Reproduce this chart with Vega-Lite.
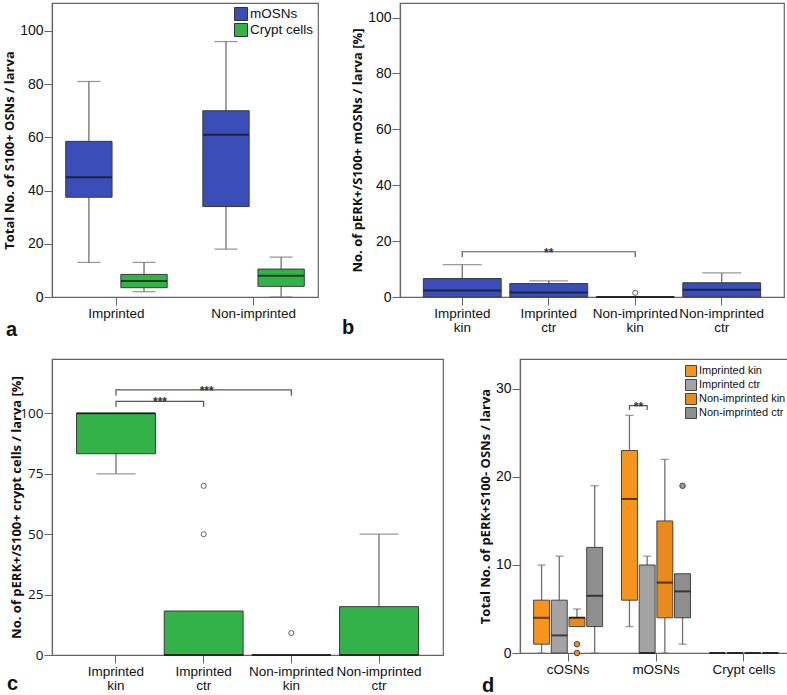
{
  "$schema": "https://vega.github.io/schema/vega-lite/v6.json",
  "padding": {"left": 3, "top": 2, "right": 0, "bottom": 0},
  "background": "white",
  "spacing": 17,
  "resolve": {"scale": {"fill": "independent", "color": "independent", "xOffset": "independent", "x": "independent", "y": "independent"}, "legend": {"fill": "independent", "color": "independent"}},
  "datasets": {
    "boxA": [
      {"group": "Imprinted", "series": "mOSNs", "lower": 13, "q1": 37.5, "median": 45, "q3": 58.5, "upper": 81},
      {"group": "Imprinted", "series": "Crypt cells", "lower": 2, "q1": 3.5, "median": 6, "q3": 8.5, "upper": 13},
      {"group": "Non-imprinted", "series": "mOSNs", "lower": 18, "q1": 34, "median": 61, "q3": 70, "upper": 96},
      {"group": "Non-imprinted", "series": "Crypt cells", "lower": 0, "q1": 4, "median": 8, "q3": 10.5, "upper": 15}
    ],
    "boxB": [
      {"cat": "Imprinted kin", "lower": 0, "q1": 0, "median": 2.3, "q3": 6.6, "upper": 11.6},
      {"cat": "Imprinted ctr", "lower": 0, "q1": 0, "median": 1.6, "q3": 4.8, "upper": 5.8},
      {"cat": "Non-imprinted kin", "lower": 0, "q1": 0, "median": 0, "q3": 0, "upper": 0},
      {"cat": "Non-imprinted ctr", "lower": 0, "q1": 0, "median": 2.6, "q3": 5.1, "upper": 8.6}
    ],
    "outB": [
      {"cat": "Non-imprinted kin", "value": 1.5}
    ],
    "brB": [
      {"br": 1, "cat": "Imprinted kin", "y": 14.3, "o": 1},
      {"br": 1, "cat": "Imprinted kin", "y": 16.2, "o": 2},
      {"br": 1, "cat": "Non-imprinted kin", "y": 16.2, "o": 3},
      {"br": 1, "cat": "Non-imprinted kin", "y": 14.3, "o": 4}
    ],
    "sigB": [
      {"cat": "Imprinted ctr", "y": 16.2, "label": "**"}
    ],
    "boxC": [
      {"cat": "Imprinted kin", "lower": 75, "q1": 83.3, "median": 100, "q3": 100, "upper": 100},
      {"cat": "Imprinted ctr", "lower": 0, "q1": 0, "median": 0, "q3": 18.2, "upper": 18.2},
      {"cat": "Non-imprinted kin", "lower": 0, "q1": 0, "median": 0, "q3": 0, "upper": 0},
      {"cat": "Non-imprinted ctr", "lower": 0, "q1": 0, "median": 0, "q3": 20, "upper": 50}
    ],
    "outC": [
      {"cat": "Imprinted ctr", "value": 70},
      {"cat": "Imprinted ctr", "value": 50},
      {"cat": "Non-imprinted kin", "value": 9.1}
    ],
    "brC": [
      {"br": 1, "cat": "Imprinted kin", "y": 102.6, "o": 1},
      {"br": 1, "cat": "Imprinted kin", "y": 105, "o": 2},
      {"br": 1, "cat": "Imprinted ctr", "y": 105, "o": 3},
      {"br": 1, "cat": "Imprinted ctr", "y": 102.6, "o": 4},
      {"br": 2, "cat": "Imprinted kin", "y": 107.3, "o": 1},
      {"br": 2, "cat": "Imprinted kin", "y": 109.7, "o": 2},
      {"br": 2, "cat": "Non-imprinted kin", "y": 109.7, "o": 3},
      {"br": 2, "cat": "Non-imprinted kin", "y": 107.3, "o": 4}
    ],
    "boxD": [
      {"group": "cOSNs", "series": "Imprinted kin", "lower": 0, "q1": 1, "median": 4, "q3": 6, "upper": 10},
      {"group": "cOSNs", "series": "Imprinted ctr", "lower": 0, "q1": 0, "median": 2, "q3": 6, "upper": 11},
      {"group": "cOSNs", "series": "Non-imprinted kin", "lower": 3, "q1": 3, "median": 4, "q3": 4.05, "upper": 5},
      {"group": "cOSNs", "series": "Non-imprinted ctr", "lower": 0, "q1": 3, "median": 6.5, "q3": 12, "upper": 19},
      {"group": "mOSNs", "series": "Imprinted kin", "lower": 3, "q1": 6, "median": 17.5, "q3": 23, "upper": 27},
      {"group": "mOSNs", "series": "Imprinted ctr", "lower": 0, "q1": 0, "median": 0, "q3": 10, "upper": 11},
      {"group": "mOSNs", "series": "Non-imprinted kin", "lower": 0, "q1": 4, "median": 8, "q3": 15, "upper": 22},
      {"group": "mOSNs", "series": "Non-imprinted ctr", "lower": 1, "q1": 4, "median": 7, "q3": 9, "upper": 9},
      {"group": "Crypt cells", "series": "Imprinted kin", "lower": 0, "q1": 0, "median": 0, "q3": 0, "upper": 0},
      {"group": "Crypt cells", "series": "Imprinted ctr", "lower": 0, "q1": 0, "median": 0, "q3": 0, "upper": 0},
      {"group": "Crypt cells", "series": "Non-imprinted kin", "lower": 0, "q1": 0, "median": 0, "q3": 0, "upper": 0},
      {"group": "Crypt cells", "series": "Non-imprinted ctr", "lower": 0, "q1": 0, "median": 0, "q3": 0, "upper": 0}
    ],
    "outD": [
      {"group": "cOSNs", "series": "Non-imprinted kin", "value": 1},
      {"group": "cOSNs", "series": "Non-imprinted kin", "value": 0},
      {"group": "mOSNs", "series": "Non-imprinted ctr", "value": 19}
    ],
    "brD": [
      {"br": 1, "group": "mOSNs", "series": "Imprinted kin", "y": 27.6, "o": 1},
      {"br": 1, "group": "mOSNs", "series": "Imprinted kin", "y": 28.1, "o": 2},
      {"br": 1, "group": "mOSNs", "series": "Imprinted ctr", "y": 28.1, "o": 3},
      {"br": 1, "group": "mOSNs", "series": "Imprinted ctr", "y": 27.6, "o": 4}
    ],
    "sigD": [
      {"group": "mOSNs", "series": "Imprinted kin", "y": 28.1, "label": "**"}
    ]
  },
  "vconcat": [
    {
      "spacing": 22,
      "resolve": {"scale": {"fill": "independent", "color": "independent", "xOffset": "independent"}, "legend": {"fill": "independent", "color": "independent"}},
      "hconcat": [
        {
          "width": 266,
          "height": 294,
          "title": {"text": "a", "orient": "bottom", "anchor": "start", "frame": "group", "dx": -46, "dy": -4, "fontSize": 20, "fontWeight": "bold", "font": "Liberation Sans", "color": "#111"},
          "data": {"name": "boxA"},
          "encoding": {
            "x": {"field": "group", "type": "nominal", "sort": ["Imprinted", "Non-imprinted"], "scale": {"domain": ["Imprinted", "Non-imprinted"], "paddingInner": 0.26, "paddingOuter": 0.1}, "axis": {"title": null, "labelAngle": 0, "labelFontSize": 13.5}},
            "xOffset": {"field": "series", "type": "nominal", "scale": {"domain": ["mOSNs", "Crypt cells"], "paddingInner": 0.16, "paddingOuter": 0}}
          },
          "layer": [
            {
              "mark": {"type": "rule", "color": "#707070", "strokeWidth": 1.3},
              "encoding": {
                "y": {"field": "lower", "type": "quantitative", "scale": {"domain": [0, 110.5], "nice": false, "zero": true}, "axis": {"title": "Total No. of S100+ OSNs / larva", "values": [0, 20, 40, 60, 80, 100]}},
                "y2": {"field": "upper"}
              }
            },
            {
              "transform": [{"filter": "datum.lower < datum.q1"}],
              "mark": {"type": "tick", "color": "#707070", "size": 23, "thickness": 1.3},
              "encoding": {"y": {"field": "lower", "type": "quantitative"}}
            },
            {
              "transform": [{"filter": "datum.upper > datum.q3"}],
              "mark": {"type": "tick", "color": "#707070", "size": 23, "thickness": 1.3},
              "encoding": {"y": {"field": "upper", "type": "quantitative"}}
            },
            {
              "mark": {"type": "bar", "stroke": "#3a3a3a", "strokeWidth": 1},
              "encoding": {
                "y": {"field": "q1", "type": "quantitative"},
                "y2": {"field": "q3"},
                "fill": {"field": "series", "type": "nominal", "scale": {"domain": ["mOSNs", "Crypt cells"], "range": ["#3a4db8", "#34b24a"]},
                  "legend": {"title": null, "orient": "top-right", "offset": 2, "symbolType": "square", "symbolSize": 169, "symbolStrokeColor": "#333", "symbolStrokeWidth": 1, "labelFontSize": 13.5, "labelFont": "Liberation Sans", "labelColor": "#111", "labelOffset": 2, "rowPadding": -2, "padding": 2}}
              }
            },
            {
              "mark": {"type": "tick", "color": "#111", "size": 46, "thickness": 2},
              "encoding": {"y": {"field": "median", "type": "quantitative"}}
            }
          ]
        },
        {
          "width": 384,
          "height": 294,
          "title": {"text": "b", "orient": "bottom", "anchor": "start", "frame": "group", "dx": -58, "dy": -20, "fontSize": 20, "fontWeight": "bold", "font": "Liberation Sans", "color": "#111"},
          "encoding": {
            "x": {"field": "cat", "type": "nominal", "sort": ["Imprinted kin", "Imprinted ctr", "Non-imprinted kin", "Non-imprinted ctr"], "scale": {"domain": ["Imprinted kin", "Imprinted ctr", "Non-imprinted kin", "Non-imprinted ctr"], "paddingInner": 0.1, "paddingOuter": 0.27}, "axis": {"title": null, "labelAngle": 0, "labelExpr": "split(datum.label, ' ')", "labelLineHeight": 14, "labelFontSize": 13.5}}
          },
          "layer": [
            {
              "data": {"name": "boxB"},
              "mark": {"type": "rule", "color": "#707070", "strokeWidth": 1.3},
              "encoding": {
                "y": {"field": "lower", "type": "quantitative", "scale": {"domain": [0, 105.2], "nice": false}, "axis": {"title": "No. of pERK+/S100+ mOSNs / larva [%]", "values": [0, 20, 40, 60, 80, 100]}},
                "y2": {"field": "upper"}
              }
            },
            {
              "data": {"name": "boxB"},
              "transform": [{"filter": "datum.upper > datum.q3"}],
              "mark": {"type": "tick", "color": "#707070", "size": 39, "thickness": 1.3},
              "encoding": {"y": {"field": "upper", "type": "quantitative"}}
            },
            {
              "data": {"name": "boxB"},
              "mark": {"type": "bar", "stroke": "#3a3a3a", "strokeWidth": 1, "fill": "#3a4db8"},
              "encoding": {
                "y": {"field": "q1", "type": "quantitative"},
                "y2": {"field": "q3"}
              }
            },
            {
              "data": {"name": "boxB"},
              "mark": {"type": "tick", "color": "#111", "size": 78, "thickness": 2},
              "encoding": {"y": {"field": "median", "type": "quantitative"}}
            },
            {
              "data": {"name": "outB"},
              "mark": {"type": "point", "shape": "circle", "filled": false, "stroke": "#222", "strokeWidth": 1, "size": 26},
              "encoding": {"y": {"field": "value", "type": "quantitative"}}
            },
            {
              "data": {"name": "brB"},
              "mark": {"type": "line", "color": "#555", "strokeWidth": 1.2},
              "encoding": {"y": {"field": "y", "type": "quantitative"}, "detail": {"field": "br"}, "order": {"field": "o"}}
            },
            {
              "data": {"name": "sigB"},
              "mark": {"type": "text", "fontSize": 12, "font": "Liberation Sans", "fontWeight": "bold", "color": "#333", "baseline": "alphabetic", "dy": 5},
              "encoding": {"y": {"field": "y", "type": "quantitative"}, "text": {"field": "label"}}
            }
          ]
        }
      ]
    },
    {
      "spacing": 34,
      "resolve": {"scale": {"fill": "independent", "color": "independent", "xOffset": "independent"}, "legend": {"fill": "independent", "color": "independent"}},
      "hconcat": [
        {
          "width": 391,
          "height": 296,
          "title": {"text": "c", "orient": "bottom", "anchor": "start", "frame": "group", "dx": -45, "dy": -22, "fontSize": 20, "fontWeight": "bold", "font": "Liberation Sans", "color": "#111"},
          "encoding": {
            "x": {"field": "cat", "type": "nominal", "sort": ["Imprinted kin", "Imprinted ctr", "Non-imprinted kin", "Non-imprinted ctr"], "scale": {"domain": ["Imprinted kin", "Imprinted ctr", "Non-imprinted kin", "Non-imprinted ctr"], "paddingInner": 0.1, "paddingOuter": 0.28}, "axis": {"title": null, "labelAngle": 0, "labelExpr": "split(datum.label, ' ')", "labelLineHeight": 14, "labelFontSize": 13.5}}
          },
          "layer": [
            {
              "data": {"name": "boxC"},
              "mark": {"type": "rule", "color": "#707070", "strokeWidth": 1.3},
              "encoding": {
                "y": {"field": "lower", "type": "quantitative", "scale": {"domain": [0, 122.5], "nice": false}, "axis": {"title": "No. of pERK+/S100+ crypt cells / larva [%]", "values": [0, 25, 50, 75, 100], "labelFont": "Open Sans", "labelFontSize": 13.5, "titlePadding": -4, "tickSize": 8}},
                "y2": {"field": "upper"}
              }
            },
            {
              "data": {"name": "boxC"},
              "transform": [{"filter": "datum.lower < datum.q1"}],
              "mark": {"type": "tick", "color": "#707070", "size": 39, "thickness": 1.3},
              "encoding": {"y": {"field": "lower", "type": "quantitative"}}
            },
            {
              "data": {"name": "boxC"},
              "transform": [{"filter": "datum.upper > datum.q3"}],
              "mark": {"type": "tick", "color": "#707070", "size": 39, "thickness": 1.3},
              "encoding": {"y": {"field": "upper", "type": "quantitative"}}
            },
            {
              "data": {"name": "boxC"},
              "mark": {"type": "bar", "stroke": "#3a3a3a", "strokeWidth": 1, "fill": "#34b24a"},
              "encoding": {
                "y": {"field": "q1", "type": "quantitative"},
                "y2": {"field": "q3"}
              }
            },
            {
              "data": {"name": "boxC"},
              "mark": {"type": "tick", "color": "#111", "size": 79, "thickness": 2},
              "encoding": {"y": {"field": "median", "type": "quantitative"}}
            },
            {
              "data": {"name": "outC"},
              "mark": {"type": "point", "shape": "circle", "filled": false, "stroke": "#222", "strokeWidth": 1, "size": 26},
              "encoding": {"y": {"field": "value", "type": "quantitative"}}
            },
            {
              "data": {"name": "brC"},
              "mark": {"type": "line", "color": "#555", "strokeWidth": 1.2},
              "encoding": {"y": {"field": "y", "type": "quantitative"}, "detail": {"field": "br"}, "order": {"field": "o"}}
            },
            {
              "data": {"values": [{"cat": "Imprinted kin", "y": 105, "label": "***"}]},
              "mark": {"type": "text", "fontSize": 12, "font": "Liberation Sans", "fontWeight": "bold", "color": "#333", "baseline": "alphabetic", "dy": 5, "dx": 44},
              "encoding": {"y": {"field": "y", "type": "quantitative"}, "text": {"field": "label"}}
            },
            {
              "data": {"values": [{"cat": "Imprinted ctr", "y": 109.7, "label": "***"}]},
              "mark": {"type": "text", "fontSize": 12, "font": "Liberation Sans", "fontWeight": "bold", "color": "#333", "baseline": "alphabetic", "dy": 5, "dx": 3},
              "encoding": {"y": {"field": "y", "type": "quantitative"}, "text": {"field": "label"}}
            }
          ]
        },
        {
          "width": 272,
          "height": 294,
          "title": {"text": "d", "orient": "bottom", "anchor": "start", "frame": "group", "dx": -38, "dy": -4, "fontSize": 20, "fontWeight": "bold", "font": "Liberation Sans", "color": "#111"},
          "encoding": {
            "x": {"field": "group", "type": "nominal", "sort": ["cOSNs", "mOSNs", "Crypt cells"], "scale": {"domain": ["cOSNs", "mOSNs", "Crypt cells"], "paddingInner": 0.215, "paddingOuter": 0.155}, "axis": {"title": null, "labelAngle": 0, "labelFontSize": 13.5}},
            "xOffset": {"field": "series", "type": "nominal", "scale": {"domain": ["Imprinted kin", "Imprinted ctr", "Non-imprinted kin", "Non-imprinted ctr"], "paddingInner": 0.1, "paddingOuter": 0}}
          },
          "layer": [
            {
              "data": {"name": "boxD"},
              "mark": {"type": "rule", "color": "#707070", "strokeWidth": 1.3},
              "encoding": {
                "y": {"field": "lower", "type": "quantitative", "scale": {"domain": [0, 33.4], "nice": false}, "axis": {"title": "Total No. of pERK+S100- OSNs / larva", "values": [0, 10, 20, 30]}},
                "y2": {"field": "upper"}
              }
            },
            {
              "data": {"name": "boxD"},
              "transform": [{"filter": "datum.lower < datum.q1"}],
              "mark": {"type": "tick", "color": "#707070", "size": 8, "thickness": 1.3},
              "encoding": {"y": {"field": "lower", "type": "quantitative"}}
            },
            {
              "data": {"name": "boxD"},
              "transform": [{"filter": "datum.upper > datum.q3"}],
              "mark": {"type": "tick", "color": "#707070", "size": 8, "thickness": 1.3},
              "encoding": {"y": {"field": "upper", "type": "quantitative"}}
            },
            {
              "data": {"name": "boxD"},
              "mark": {"type": "bar", "stroke": "#444", "strokeWidth": 1},
              "encoding": {
                "y": {"field": "q1", "type": "quantitative"},
                "y2": {"field": "q3"},
                "fill": {"field": "series", "type": "nominal", "scale": {"domain": ["Imprinted kin", "Imprinted ctr", "Non-imprinted kin", "Non-imprinted ctr"], "range": ["#f7941d", "#a3a3a3", "#e88a1c", "#8f8f8f"]},
                  "legend": {"title": null, "orient": "top-right", "offset": 4, "symbolType": "square", "symbolSize": 121, "symbolStrokeColor": "#444", "symbolStrokeWidth": 1, "labelFontSize": 11, "labelFont": "Liberation Sans", "labelColor": "#111", "labelOffset": 2, "rowPadding": -3, "padding": 2}}
              }
            },
            {
              "data": {"name": "boxD"},
              "mark": {"type": "tick", "color": "#111", "size": 16, "thickness": 2},
              "encoding": {"y": {"field": "median", "type": "quantitative"}}
            },
            {
              "data": {"name": "outD"},
              "mark": {"type": "point", "shape": "circle", "filled": true, "stroke": "#444", "strokeWidth": 1, "size": 30, "opacity": 1},
              "encoding": {
                "y": {"field": "value", "type": "quantitative"},
                "color": {"field": "series", "type": "nominal", "scale": {"domain": ["Imprinted kin", "Imprinted ctr", "Non-imprinted kin", "Non-imprinted ctr"], "range": ["#f7941d", "#a3a3a3", "#f0901d", "#9a9a9a"]}, "legend": null}
              }
            },
            {
              "data": {"name": "brD"},
              "mark": {"type": "line", "color": "#555", "strokeWidth": 1.2},
              "encoding": {"y": {"field": "y", "type": "quantitative"}, "detail": {"field": "br"}, "order": {"field": "o"}}
            },
            {
              "data": {"name": "sigD"},
              "mark": {"type": "text", "fontSize": 12, "font": "Liberation Sans", "fontWeight": "bold", "color": "#333", "baseline": "alphabetic", "dy": 5, "dx": 9},
              "encoding": {"y": {"field": "y", "type": "quantitative"}, "text": {"field": "label"}}
            }
          ]
        }
      ]
    }
  ],
  "config": {
    "view": {"stroke": "#666", "strokeWidth": 1.2},
    "axis": {
      "grid": false,
      "domainColor": "#666",
      "domainWidth": 1.2,
      "tickColor": "#666",
      "tickSize": 8,
      "labelFont": "Liberation Sans",
      "labelFontSize": 14,
      "labelColor": "#111",
      "labelPadding": 1,
      "titleFont": "Open Sans",
      "titleFontWeight": "bold",
      "titleFontSize": 13,
      "titleColor": "#111",
      "titlePadding": 3
    },
    "title": {"offset": 0}
  }
}
